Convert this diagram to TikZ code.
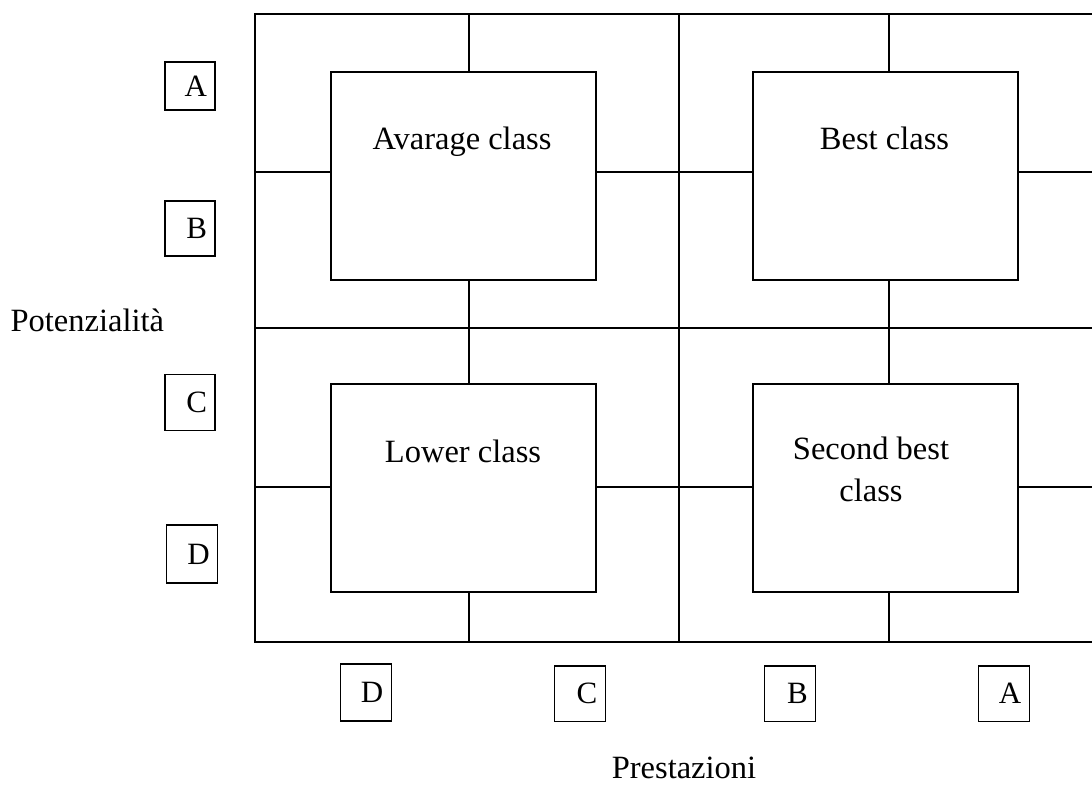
\documentclass[tikz,border=0pt]{standalone}
\usepackage{fontspec}
\setmainfont{Liberation Serif}
\begin{document}
\begin{tikzpicture}[x=1pt,y=-1pt,
  line width=1.6pt,
  classbox/.style={draw, rectangle, inner sep=0pt, minimum width=265pt, minimum height=208pt},
  classtext/.style={anchor=base, font=\fontsize{32.5}{42}\selectfont, align=center, inner sep=0pt},
  axistext/.style={anchor=base, font=\fontsize{32.5}{40}\selectfont, inner sep=0pt},
  gradebox/.style 2 args={draw, rectangle, line width=1.5pt, inner ysep=0pt, inner xsep=8pt,
    text width={#1-16pt}, align=right, minimum height=#2,
    font=\fontsize{31}{36}\selectfont}]
  \useasboundingbox (0,0) rectangle (1092,785);

  % frame corners and grid lines
  \coordinate (ftl) at (255,14);
  \coordinate (fbl) at (255,642);
  \coordinate (ftr) at (1092,14);
  \coordinate (fbr) at (1092,642);
  \coordinate (mt) at (679,14);
  \coordinate (mb) at (679,642);
  \coordinate (ml) at (255,328);
  \coordinate (mr) at (1092,328);
  % connector tracks
  \coordinate (xl) at (469,0);
  \coordinate (xr) at (889,0);
  \coordinate (yt) at (0,172);
  \coordinate (yb) at (0,487);

  \draw (ftr) -- (ftl) -- (fbl) -- (fbr);
  \draw (mt) -- (mb);
  \draw (ml) -- (mr);

  % class boxes
  \node[classbox] (avg)  at (463.5,176) {};
  \node[classbox] (best) at (885.5,176) {};
  \node[classbox] (low)  at (463.5,488) {};
  \node[classbox] (sec)  at (885.5,488) {};

  \node[classtext] (tavg)  at (462,149) {Avarage class};
  \node[classtext] (tbest) at (884.5,149) {Best class};
  \node[classtext] (tlow)  at (463,462) {Lower class};
  \node[classtext, anchor=north] (tsec) at (871,436) {Second best\\class};

  % vertical connectors
  \draw (xl |- ftl) -- (xl |- avg.north);
  \draw (xl |- avg.south) -- (xl |- ml);
  \draw (xl |- ml) -- (xl |- low.north);
  \draw (xl |- low.south) -- (xl |- fbl);
  \draw (xr |- ftr) -- (xr |- best.north);
  \draw (xr |- best.south) -- (xr |- mr);
  \draw (xr |- mr) -- (xr |- sec.north);
  \draw (xr |- sec.south) -- (xr |- fbr);

  % horizontal connectors
  \draw (yt -| ftl) -- (yt -| avg.west);
  \draw (yt -| avg.east) -- (yt -| mt);
  \draw (yt -| mt) -- (yt -| best.west);
  \draw (yt -| best.east) -- (yt -| ftr);
  \draw (yb -| fbl) -- (yb -| low.west);
  \draw (yb -| low.east) -- (yb -| mb);
  \draw (yb -| mb) -- (yb -| sec.west);
  \draw (yb -| sec.east) -- (yb -| fbr);

  % grades on the potential axis
  \node[gradebox={50pt}{48pt}]   (pA) at (190,86)    {A};
  \node[gradebox={50pt}{55pt}]   (pB) at (190,228.3) {B};
  \node[gradebox={50pt}{55.6pt}] (pC) at (190,402.5) {C};
  \node[gradebox={51pt}{58pt}]   (pD) at (192.2,554.2) {D};

  % grades on the performance axis
  \node[gradebox={50.6pt}{57pt}]   (sD) at (366,692.7)   {D};
  \node[gradebox={50.6pt}{55.3pt}] (sC) at (580,693.7)   {C};
  \node[gradebox={51pt}{55.3pt}]   (sB) at (790.2,693.7) {B};
  \node[gradebox={50.6pt}{55.3pt}] (sA) at (1004,693.7)  {A};

  % axis titles
  \node[axistext] (ypot) at (87.3,331.7) {Potenzialità};
  \node[axistext] (xpre) at (684,778) {Prestazioni};
\end{tikzpicture}
\end{document}
